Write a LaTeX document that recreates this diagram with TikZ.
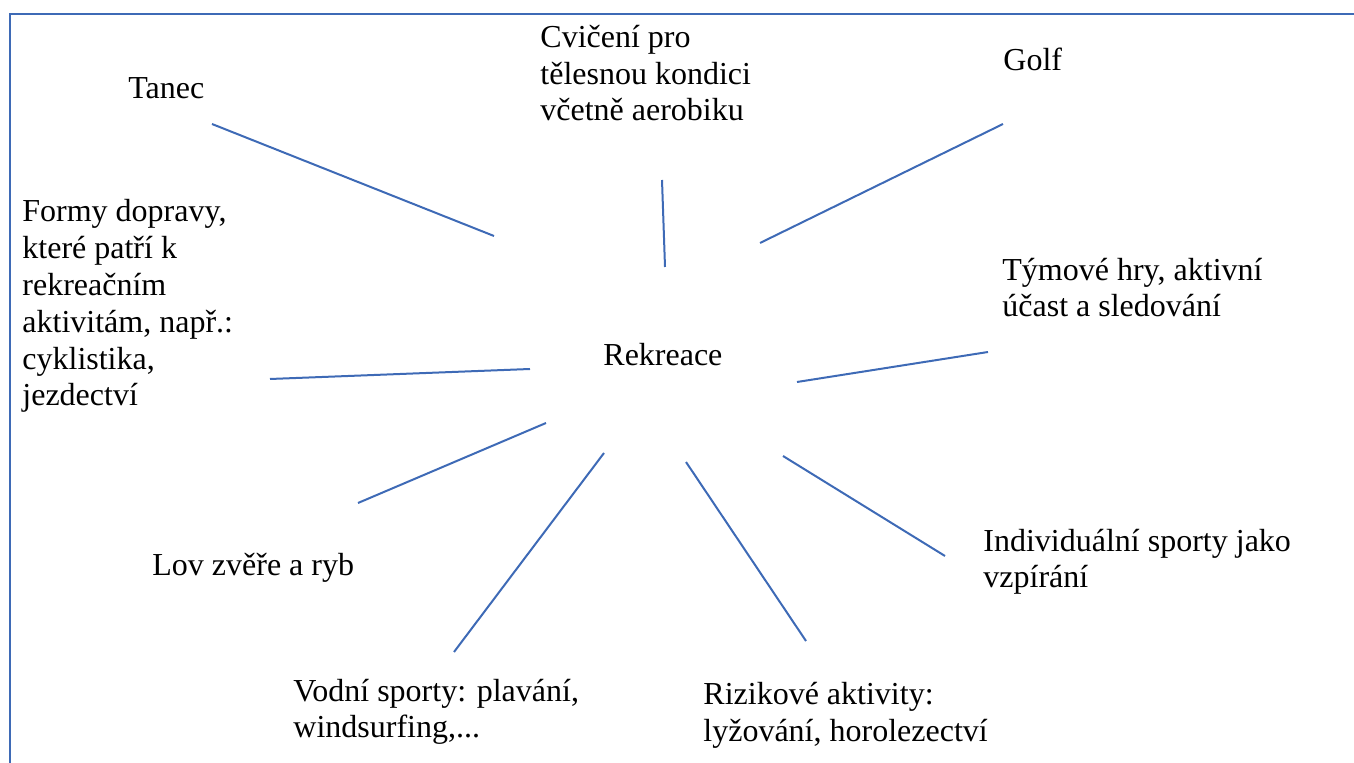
\documentclass[tikz,border=0pt]{standalone}
\usepackage{fontspec}
\setmainfont{Liberation Serif}
\definecolor{lineblue}{RGB}{62,106,182}
\tikzset{
  lbl/.style={anchor=base west, inner sep=0pt, align=left, font=\fontsize{16}{18.4}\selectfont, text=black},
  spoke/.style={draw=lineblue, line width=1pt},
  frame/.style={draw=lineblue, line width=1pt}
}
\begin{document}
\begin{tikzpicture}[x=0.5pt,y=-0.5pt]
\useasboundingbox (0,0) rectangle (1354,763);
% frame (top and left edges)
\coordinate (fbl) at (9.5,763);
\coordinate (ftl) at (9.5,14.5);
\coordinate (ftr) at (1354,14.5);
\draw[frame] (fbl) -- (ftl) -- (ftr);

% labels (anchored at the baseline of their last line)
\node[lbl] (center) at (603,366) {Rekreace};
\node[lbl] (tanec) at (128,99) {Tanec};
\node[lbl] (cvic) at (540,121) {Cvičení pro\\tělesnou kondici\\včetně aerobiku};
\node[lbl] (golf) at (1003,71) {Golf};
\node[lbl] (formy) at (22,406) {Formy dopravy,\\které patří k\\rekreačním\\aktivitám, např.:\\cyklistika,\\jezdectví};
\node[lbl] (tym) at (1002,317) {Týmové hry, aktivní\\účast a sledování};
\node[lbl] (indiv) at (983,588) {Individuální sporty jako\\vzpírání};
\node[lbl] (lov) at (152,576) {Lov zvěře a ryb};
\node[lbl] (vodni) at (293,738) {Vodní sporty: plavání,\\windsurfing,...};
\node[lbl] (riz) at (703,741) {Rizikové aktivity:\\lyžování, horolezectví};

% spoke end points
\coordinate (t1) at (212,124); \coordinate (t2) at (494,236);
\coordinate (c1) at (662,180); \coordinate (c2) at (665,267);
\coordinate (g1) at (1003,124); \coordinate (g2) at (760,243);
\coordinate (y1) at (988,352); \coordinate (y2) at (797,382);
\coordinate (i1) at (783,456); \coordinate (i2) at (945,556);
\coordinate (r1) at (686,462); \coordinate (r2) at (806,641);
\coordinate (v1) at (604,453); \coordinate (v2) at (454,652);
\coordinate (l1) at (546,423); \coordinate (l2) at (358,503);
\coordinate (f1) at (530,369); \coordinate (f2) at (270,379);

\draw[spoke] (t1) -- (t2);
\draw[spoke] (c1) -- (c2);
\draw[spoke] (g1) -- (g2);
\draw[spoke] (y1) -- (y2);
\draw[spoke] (i1) -- (i2);
\draw[spoke] (r1) -- (r2);
\draw[spoke] (v1) -- (v2);
\draw[spoke] (l1) -- (l2);
\draw[spoke] (f1) -- (f2);
\end{tikzpicture}
\end{document}
